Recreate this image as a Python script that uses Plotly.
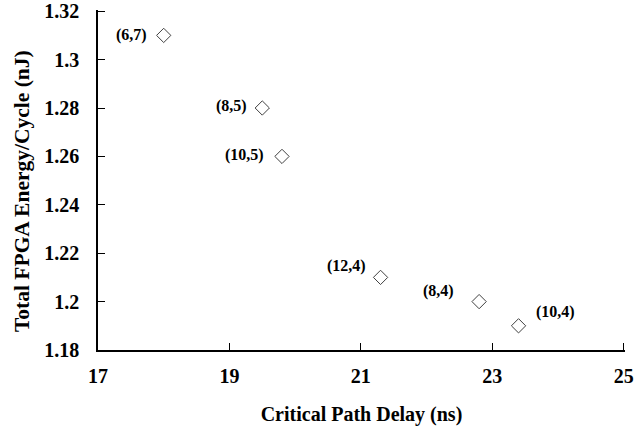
import plotly.graph_objects as go

delay_ns = [18.0, 19.5, 19.8, 21.3, 22.8, 23.4]
energy_nj = [1.31, 1.28, 1.26, 1.21, 1.20, 1.19]
point_labels = ["(6,7)", "(8,5)", "(10,5)", "(12,4)", "(8,4)", "(10,4)"]
x_ticks = [17, 19, 21, 23, 25]
y_ticks = [1.18, 1.2, 1.22, 1.24, 1.26, 1.28, 1.3, 1.32]
y_tick_text = ["1.18", "1.2", "1.22", "1.24", "1.26", "1.28", "1.3", "1.32"]
x_title = "Critical Path Delay (ns)"
y_title = "Total FPGA Energy/Cycle (nJ)"

label_offsets = [(-32, 0), (-31, 2), (-37, 1), (-34, 11), (-41, 11), (37, 14)]

FONT = "Liberation Serif"

fig = go.Figure()
fig.add_trace(go.Scatter(
    x=delay_ns, y=energy_nj, mode="markers",
    marker=dict(symbol="diamond-open", size=11, color="#404040",
                line=dict(width=1, color="#404040")),
    showlegend=False, hoverinfo="skip", cliponaxis=False,
))

for xv, yv, txt, (dx, dy) in zip(delay_ns, energy_nj, point_labels, label_offsets):
    fig.add_annotation(x=xv, y=yv, text="<b>" + txt + "</b>", showarrow=False,
                       xshift=dx, yshift=dy,
                       font=dict(family=FONT, size=16, color="black"))

# y-axis title placed as a rotated annotation to match reference offset
fig.add_annotation(xref="paper", yref="paper", x=0, y=0.5, text="<b>" + y_title + "</b>",
                   textangle=-90, showarrow=False, xanchor="center", yanchor="middle",
                   xshift=-76, yshift=-11,
                   font=dict(family=FONT, size=21.5, color="black"))

fig.update_layout(
    width=636, height=428,
    margin=dict(l=98, r=11, t=10, b=78, autoexpand=False),
    paper_bgcolor="white", plot_bgcolor="white",
    font=dict(family=FONT, color="black"),
    xaxis=dict(
        range=[17, 25.02], tickvals=x_ticks, ticktext=[f"<b>{v}</b>" for v in x_ticks],
        ticks="inside", ticklen=7, tickwidth=1, tickcolor="black",
        showline=True, linecolor="black", linewidth=1.5,
        showgrid=False, zeroline=False, automargin=False,
        tickfont=dict(family=FONT, size=20, color="black"),
        ticklabelstandoff=7, ticklabeloverflow="allow",
        title=dict(text="<b>" + x_title + "</b>",
                   font=dict(family=FONT, size=20, color="black"), standoff=21),
    ),
    yaxis=dict(
        range=[1.18, 1.3205], tickvals=y_ticks, ticktext=[f"<b>{t}</b>" for t in y_tick_text],
        ticks="inside", ticklen=7, tickwidth=1, tickcolor="black",
        showline=True, linecolor="black", linewidth=1.5,
        showgrid=False, zeroline=False, automargin=False,
        tickfont=dict(family=FONT, size=20, color="black"),
        ticklabelstandoff=13, ticklabeloverflow="allow",
    ),
)

fig.write_html("out.html", config={"displayModeBar": False},
               post_script="document.body.style.margin='0';document.body.style.overflow='hidden';")
